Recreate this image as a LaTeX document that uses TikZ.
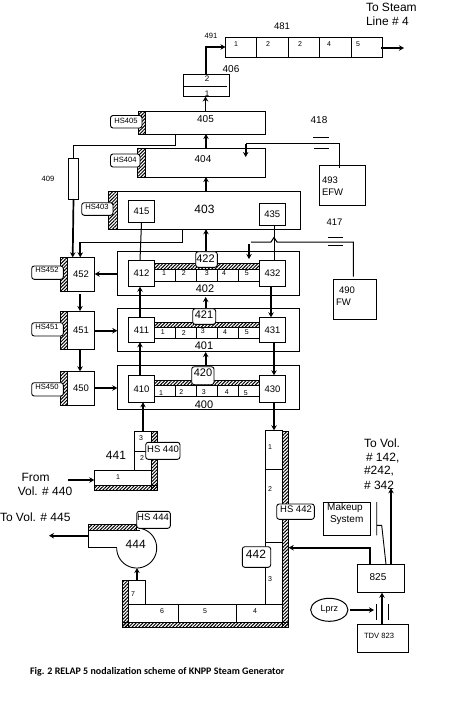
\documentclass[tikz,border=0pt]{standalone}
\usepackage{fontspec}
\setmainfont{Liberation Sans}
\newfontfamily\capfont{Carlito}
\usetikzlibrary{arrows.meta,patterns.meta,shapes.geometric}
\tikzset{
  x=1pt,y=-1pt,
  boxn/.style={draw=black,line width=1pt,inner sep=0pt,outer sep=0pt,fill=white},
  hatchn/.style={draw=black,line width=0.7pt,inner sep=0pt,outer sep=0pt,pattern={Lines[angle=45,distance=2.4pt,line width=1pt]}},
  tagn/.style={draw=black,line width=0.9pt,rounded corners=2.5pt,inner sep=0pt,outer sep=0pt,fill=white},
  labn/.style={inner sep=0pt,outer sep=0pt},
  flow/.style={line width=1.7pt,-{Stealth[length=5pt,width=5.5pt]}},
  thinl/.style={line width=0.9pt},
  thinflow/.style={line width=1pt},
}
\newcommand\boxat[7][boxn]{%
  \pgfmathsetmacro\cxx{(#3+#5)/2}\pgfmathsetmacro\cyy{(#4+#6)/2}%
  \pgfmathsetmacro\bww{#5-#3}\pgfmathsetmacro\bhh{#6-#4}%
  \node[#1,minimum width=\bww pt,minimum height=\bhh pt,font=\fontsize{9.5}{10}\selectfont] (#2) at (\cxx,\cyy) {#7};}
\newcommand\lab[5]{\node[labn,font=\fontsize{#4}{#4}\selectfont] (#1) at (#2,#3) {#5};}
\newcommand\lableft[5]{\node[labn,anchor=west,font=\fontsize{#4}{#4}\selectfont] (#1) at (#2,#3) {#5};}
\newcommand\cellrow[3]{%
  \boxat{#1a}{154.7}{#2}{175.3}{#3}{}\boxat{#1b}{175.3}{#2}{196}{#3}{}%
  \boxat{#1c}{196}{#2}{217.3}{#3}{}\boxat{#1d}{217.3}{#2}{238.3}{#3}{}%
  \boxat{#1e}{238.3}{#2}{259.3}{#3}{}}
\begin{document}
\begin{tikzpicture}
\useasboundingbox (0,0) rectangle (456,715);
% --- top
\lableft{steamA}{366}{7}{12}{To Steam}
\lableft{steamB}{366}{21}{12}{Line \# 4}
\lab{l481}{282}{26}{9.5}{481}
\lab{l491}{211}{36}{7.6}{491}
\boxat{c1}{225.5}{37}{256}{57}{}\boxat{c2}{256}{37}{288}{57}{}\boxat{c3}{288}{37}{319}{57}{}\boxat{c4}{319}{37}{351}{57}{}\boxat{c5}{351}{37}{382.5}{57}{}
\lab{c1t}{236}{44}{7}{1}\lab{c2t}{268}{44}{7}{2}\lab{c3t}{300}{44}{7}{2}\lab{c4t}{329}{44}{7}{4}\lab{c5t}{358}{44}{7}{5}
\coordinate (out) at (404,48);
\draw[flow] (381,48) -- (out);
\lab{l406}{231}{69}{10}{406}
\boxat{n406}{183.5}{74.5}{229.5}{96.5}{}
\coordinate (d1) at (183.5,86);\coordinate (d2) at (227,86);
\draw[thinflow] (d1) -- (d2);
\lab{n406b}{207}{79}{8}{2}\lab{n406a}{207}{94}{8}{1}
\draw[flow] (206,74.5) |- (c1.west);
% --- 405 / 404 / 403
\boxat{n405}{145.5}{111}{265.7}{134}{}
\boxat[hatchn]{h405}{138}{111}{145.5}{134}{}
\boxat[tagn]{t405}{110.5}{115.5}{142}{128}{}
\lab{t405t}{126}{120.5}{7.6}{HS405}
\lab{n405t}{205.5}{119.5}{10}{405}
\boxat{n404}{145.5}{148}{265.7}{177}{}
\boxat[hatchn]{h404}{137.5}{148}{145.5}{177}{}
\boxat[tagn]{t404}{110.5}{154}{140}{167}{}
\lab{t404t}{125}{159.5}{7.6}{HS404}
\lab{n404t}{203}{159.5}{10}{404}
\boxat{n403}{117}{191.3}{300}{229.3}{}
\boxat[hatchn]{h403}{108.5}{191.3}{117}{229.3}{}
\boxat[tagn]{t403}{81.7}{202.7}{113}{215.3}{}
\lab{t403t}{97}{207}{7.6}{HS403}
\lab{n403t}{204.5}{209.5}{12}{403}
\boxat{n415}{128.5}{200}{154.5}{222.3}{415}
\boxat{n435}{259.3}{203.3}{285.3}{225.3}{435}
\draw[flow] (205.5,0 |- n405.north) -- (205.5,0 |- n406.south);
\draw[flow] (206,0 |- n404.north) -- (206,0 |- n405.south);
\draw[flow] (206,0 |- n403.north) -- (206,0 |- n404.south);
% --- 409
\boxat{n409}{68.7}{158}{78.3}{199}{}
\lab{l409}{48}{179}{7.6}{409}
\coordinate (j405) at (175,134);
\coordinate (j409) at (175,145);
\draw[thinflow] (j405) -- (j409) -| (n409.north);
% --- 418 / 493
\boxat{n493}{319}{165.5}{365.5}{205.5}{}
\lableft{n493a}{322}{180}{9.5}{493}
\lableft{n493b}{322}{192}{9.5}{EFW}
\lab{l418}{319}{120.5}{10}{418}
\coordinate (v1a) at (313,137);\coordinate (v1b) at (329,137);\coordinate (v1c) at (314,148);\coordinate (v1d) at (329,148);
\draw[thinflow] (v1a) -- (v1b) (v1c) -- (v1d);
\coordinate (e1) at (339,168);\coordinate (e2) at (245.7,143.5);\coordinate (e3) at (245.7,157);
\draw[thinflow] (e1) |- (e2);
\draw[flow] (e2) -- (e3);
% --- 417 / 490
\lab{l417}{334.6}{222}{9.5}{417}
\coordinate (v2a) at (328,237.3);\coordinate (v2b) at (343,237.3);\coordinate (v2c) at (328,245.3);\coordinate (v2d) at (343,245.3);
\draw[thinflow] (v2a) -- (v2b) (v2c) -- (v2d);
\boxat{n490}{333.3}{279.3}{376.7}{319.3}{}
\lab{n490a}{347}{290}{9.5}{490}
\lableft{n490b}{336}{302}{9.5}{FW}
% --- 402
\boxat{n402}{117.3}{251.3}{299.7}{295.3}{}
\cellrow{ra}{269}{281}
\boxat[hatchn]{ha}{154.7}{263.3}{259.3}{269}{}
\boxat{n412}{128.3}{260.3}{154.7}{286.7}{412}
\boxat{n432}{259.3}{260.3}{285.7}{286.7}{432}
\boxat[tagn]{n422}{195.7}{251.7}{217.3}{267.3}{}
\lab{n422t}{205.5}{258.5}{11}{422}
\lab{n402t}{205}{288.5}{11}{402}
\lab{ra1}{164}{273}{7}{1}\lab{ra2}{183.7}{273}{7}{2}\lab{ra3}{206.7}{273}{7}{3}\lab{ra4}{224}{273}{7}{4}\lab{ra5}{246.7}{273}{7}{5}
% --- 401
\boxat{n401}{117.3}{308.3}{299.7}{351.3}{}
\cellrow{rb}{327.3}{338}
\boxat[hatchn]{hb}{154.7}{322.7}{259.3}{327.3}{}
\boxat{n411}{128.3}{317.3}{154.7}{342.3}{411}
\boxat{n431}{259.3}{317.3}{285.7}{342.3}{431}
\boxat[tagn]{n421}{192.7}{308.7}{215.7}{324.3}{}
\lab{n421t}{204}{315}{11}{421}
\lab{n401t}{204}{345.7}{11}{401}
\lab{rb1}{162.7}{331.7}{7}{1}\lab{rb2}{183.7}{333}{7}{2}\lab{rb3}{202.7}{331}{7}{3}\lab{rb4}{225}{332}{7}{4}\lab{rb5}{246.7}{332}{7}{5}
% --- 400
\boxat{n400}{117.3}{365.3}{299.7}{409.3}{}
\cellrow{rc}{385.7}{396.7}
\boxat[hatchn]{hc}{154.7}{380.7}{259.3}{385.7}{}
\boxat{n410}{128.3}{375.3}{154.7}{402.3}{410}
\boxat{n430}{259.3}{375.3}{285.7}{402.3}{430}
\boxat[tagn]{n420}{191.7}{366.7}{214}{384.7}{}
\lab{n420t}{203}{373}{11}{420}
\lab{n400t}{204}{405}{11}{400}
\lab{rc1}{161}{393}{7}{1}\lab{rc2}{181.3}{392}{7}{2}\lab{rc3}{203.7}{392}{7}{3}\lab{rc4}{226.7}{392.5}{7}{4}\lab{rc5}{245.7}{392.7}{7}{5}
% --- left stack
\boxat{n452}{67.3}{257.3}{94.7}{291.3}{452}
\boxat[hatchn]{h452}{60.7}{257.3}{67.3}{291.3}{}
\boxat[tagn]{t452}{31.7}{266}{63.3}{279.3}{}
\lab{t452t}{47}{270}{7.6}{HS452}
\boxat{n451}{67.3}{311}{94.7}{349}{451}
\boxat[hatchn]{h451}{60.7}{311}{67.3}{349}{}
\boxat[tagn]{t451}{31.7}{322.7}{63.3}{336}{}
\lab{t451t}{47}{327}{7.6}{HS451}
\boxat{n450}{67.3}{371.3}{94.7}{405.3}{450}
\boxat[hatchn]{h450}{60.7}{371.3}{67.3}{405.3}{}
\boxat[tagn]{t450}{31.7}{382.7}{63.3}{396}{}
\lab{t450t}{47}{387}{7.6}{HS450}
% --- connectors of the stack
\draw[flow] (n409.south) -- (72.7,0 |- n452.north);
\coordinate (j403) at (182.7,229.3);
\coordinate (j403b) at (182.7,242);
\draw[thinflow] (j403) -- (j403b) -- (80.3,242);
\draw[flow] (80.3,242) -- (80.3,0 |- n452.north);
\draw[thinflow] (n415.south) -- (140,0 |- n412.north);
\draw[thinflow] (274.3,0 |- n435.south) -- (274.3,0 |- n432.north);
\coordinate (fw1) at (353.3,276.7);\coordinate (fw2) at (353.3,242);\coordinate (fw3) at (277,242);\coordinate (fw4) at (274,237.5);\coordinate (fw5) at (271,242);\coordinate (fw6) at (251,242);
\draw[thinflow] (fw1) -- (fw2) -- (fw3) -- (fw4) -- (fw5) -- (fw6);
\coordinate (fwa) at (249,244);\coordinate (fwb) at (249,259);
\draw[flow] (fwa) -- (fwb);
\draw[flow] (206,0 |- n402.north) -- (206,0 |- n403.south);
\draw[flow] (205.7,0 |- n401.north) -- (205.7,297);
\draw[flow] (205.7,0 |- n400.north) -- (205.7,352);
\draw[flow] (n402.west |- 0,274) -- (n452.east |- 0,274);
\draw[flow] (n451.east |- 0,330.7) -- (n401.west |- 0,330.7);
\draw[flow] (n450.east |- 0,388) -- (n400.west |- 0,388);
\draw[flow] (80,294) -- (80,0 |- n451.north);
\draw[flow] (80,0 |- n451.south) -- (80,0 |- n450.north);
\draw[flow] (140,0 |- n411.north) -- (140,0 |- n412.south);
\draw[flow] (140,0 |- n410.north) -- (140,0 |- n411.south);
\draw[flow] (271,0 |- n432.south) -- (271,0 |- n431.north);
\draw[flow] (274,0 |- n431.south) -- (274,0 |- n430.north);
% --- 441
\boxat[hatchn]{h441a}{151.7}{431.7}{157.3}{490.3}{}
\boxat[hatchn]{h441b}{94.3}{485.3}{157.3}{490.3}{}
\boxat{s3}{134.3}{431.7}{151.7}{451.7}{}
\boxat{s2}{134.3}{451.7}{151.7}{470.3}{}
\boxat{s1}{94.3}{470.3}{151.7}{485.3}{}
\lab{s3t}{141}{438}{7}{3}\lab{s2t}{142}{458}{7}{2}\lab{s1t}{118}{477}{7}{1}
\boxat[tagn]{t440}{145.7}{442.3}{180}{459.3}{}
\lab{t440t}{163}{449}{9.5}{HS 440}
\lab{l441}{116}{455}{12}{441}
\lab{fromA}{35.5}{477}{12}{From}
\lab{fromB}{45}{491}{12}{Vol. \# 440}
\coordinate (fromS) at (68.3,480);
\draw[flow] (fromS) -- (s1.west |- fromS);
\draw[flow] (143,0 |- s3.north) -- (143,0 |- n410.south);
% --- 444
\lableft{to445}{0}{517.5}{12}{To Vol. \# 445}
\boxat[hatchn]{h444}{88.3}{524.7}{136.7}{530.3}{}
\draw[line width=1pt] (140,530.3) -- (88.3,530.3) -- (88.3,547.3) -- (116.7,547.3);
\draw[line width=0.9pt] plot[domain=-80:180,samples=60] ({136.7+20*cos(\x)},{548+20*sin(\x)});
\lab{n444}{135.7}{544}{12}{444}
\boxat[tagn]{t444}{136.7}{511.3}{170.3}{528.3}{}
\lab{t444t}{153}{517.5}{9.5}{HS 444}
\coordinate (p1) at (88.3,535.7);\coordinate (p2) at (49,535.7);
\draw[flow] (p1) -- (p2);
% --- U pipe
\boxat[hatchn]{hu1}{122.7}{580}{128.7}{627}{}
\boxat[hatchn]{hu2}{122.7}{622.3}{288.7}{627}{}
\boxat[hatchn]{hu3}{282.3}{431.7}{288.7}{627}{}
\boxat{u7}{128.7}{580.3}{145.3}{604.3}{}
\boxat{u6}{128.7}{604.3}{178.3}{622.3}{}
\boxat{u5}{178.3}{604.3}{236.3}{622.3}{}
\boxat{u4}{236.3}{604.3}{282.3}{622.3}{}
\boxat{u3}{265.3}{542.3}{282.3}{604.3}{}
\boxat{u2}{265.3}{469.3}{282.3}{542.3}{}
\boxat{u1}{265.3}{430.3}{282.3}{469.3}{}
\lab{u1t}{270}{447}{7}{1}\lab{u2t}{270}{489}{7}{2}\lab{u3t}{270}{579}{7}{3}\lab{u4t}{255}{610.6}{7}{4}\lab{u5t}{205}{611}{7}{5}\lab{u6t}{162}{611}{7}{6}\lab{u7t}{133}{594}{7}{7}
\boxat[tagn]{t442}{276.7}{504}{314.3}{519.3}{}
\lab{t442t}{296}{509.5}{9.5}{HS 442}
\boxat[tagn]{n442}{242.3}{546.7}{270.7}{567.3}{}
\lab{n442t}{256}{554}{12}{442}
\draw[flow] (137,0 |- u7.north) -- (137,568);
\draw[flow] (274,0 |- n430.south) -- (274,0 |- u1.north);
% --- 825 group
\boxat{n825}{357.3}{564.3}{404.7}{592.7}{}
\lab{n825t}{378}{577}{10}{825}
\boxat{mk}{323.3}{502.3}{370.3}{535.3}{}
\lab{mka}{345}{508}{10}{Makeup}
\lab{mkb}{346.7}{520}{10}{System}
\lableft{volA}{364}{443.7}{12}{To Vol.}
\lableft{volB}{366}{458}{12}{\# 142,}
\lableft{volC}{364}{471}{12}{\#242,}
\lableft{volD}{364}{485}{12}{\# 342}
\draw[flow] (391,0 |- n825.north) -- (391,488.3);
\draw[flow] (369.7,0 |- n825.north) |- (hu3.east |- 0,547.7);
\coordinate (mk1) at (376.7,502);\coordinate (mk2) at (376.7,535.3);\coordinate (mk3) at (376.7,525.3);\coordinate (mk4) at (381.7,525.3);\coordinate (mk5) at (386,564.3);
\draw[thinl] (mk1) -- (mk2) (mk3) -- (mk4) -- (mk5);
\node[draw=black,line width=1pt,ellipse,inner sep=0pt,outer sep=0pt,minimum width=37.3pt,minimum height=23pt,font=\fontsize{9}{9}\selectfont] (lprz) at (329.3,609.8) {Lprz};
\boxat{tdv}{357.7}{624}{408.7}{652}{}
\lab{tdvt}{379}{636}{7.6}{TDV 823}
\coordinate (vt1) at (376.7,604);\coordinate (vb1) at (376.7,620);\coordinate (vt2) at (388.3,604);\coordinate (vb2) at (388.3,620);
\draw[thinl] (vt1) -- (vb1) (vt2) -- (vb2);
\draw[flow] ([xshift=2pt]lprz.east |- 0,610) -- (374,610);
\draw[flow] (382,0 |- tdv.north) -- (382,0 |- n825.south);
% --- caption
\node[labn,anchor=west,font=\capfont\bfseries\fontsize{10}{10}\selectfont] (cap) at (30,672) {Fig. 2 RELAP 5 nodalization scheme of KNPP Steam Generator};
\end{tikzpicture}
\end{document}
